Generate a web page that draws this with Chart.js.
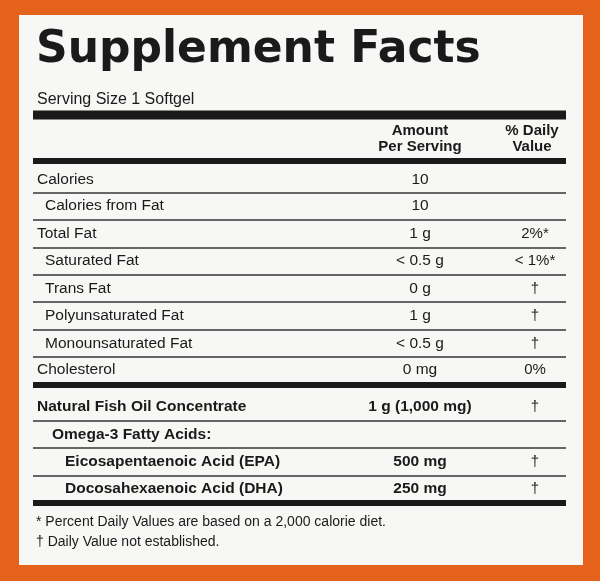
<!DOCTYPE html>
<html><head><meta charset="utf-8">
<script src="https://cdn.jsdelivr.net/npm/chart.js@4/dist/chart.umd.min.js"></script>
<style>html,body{margin:0;padding:0;background:#e5621c}#w{width:600px;height:581px}</style>
</head><body><div id="w"><canvas id="c"></canvas></div>
<script>
const title = "Supplement Facts";
const serving = "Serving Size 1 Softgel";
const nutrients = ["Calories","Calories from Fat","Total Fat","Saturated Fat","Trans Fat","Polyunsaturated Fat","Monounsaturated Fat","Cholesterol","Natural Fish Oil Concentrate","Omega-3 Fatty Acids:","Eicosapentaenoic Acid (EPA)","Docosahexaenoic Acid (DHA)"];
const amounts = ["10","10","1 g","< 0.5 g","0 g","1 g","< 0.5 g","0 mg","1 g (1,000 mg)","","500 mg","250 mg"];
const dailyValues = ["","","2%*","< 1%*","†","†","†","0%","†","","†","†"];
const footnotes = ["* Percent Daily Values are based on a 2,000 calorie diet.","† Daily Value not established."];

const rowY=[180,206,234,261,289,316,344,370,407,435,462,489];
const indent=[0,1,0,1,1,1,1,0,0,1,2,2];
const bold=[0,0,0,0,0,0,0,0,1,1,1,1];
const F='"Liberation Sans", Arial, sans-serif';
const labelPlugin={id:'label',beforeDraw(ch){
 const c=ch.ctx,X=ch.scales.x,Y=ch.scales.y;
 const px=v=>X.getPixelForValue(v),py=v=>Y.getPixelForValue(v);
 c.save();
 c.fillStyle='#e5621c';c.fillRect(0,0,600,581);
 c.fillStyle='#f7f7f5';c.fillRect(px(19),py(15),px(583)-px(19),py(565)-py(15));
 c.fillStyle='#1a1a1a';c.textBaseline='middle';
 c.font='bold 44px "DejaVu Sans", sans-serif';c.fillText(title,px(36),py(51));
 c.font='16px '+F;c.fillText(serving,px(37),py(100));
 const bar=(y,h,x0=33)=>c.fillRect(px(x0),py(y)-h/2,px(566)-px(x0),h);
 bar(115,9);bar(161,6);bar(385,6);bar(503,6);
 [193,220,248,275,302,330,357].forEach(y=>bar(y,1.3));
 [421,448,476].forEach(y=>bar(y,1.3,33));
 c.textAlign='center';c.font='bold 15px '+F;
 c.fillText('Amount',px(420),py(131));c.fillText('Per Serving',px(420),py(147));
 c.fillText('% Daily',px(532),py(131));c.fillText('Value',px(532),py(147));
 nutrients.forEach((n,i)=>{
  c.font=(bold[i]?'bold ':'')+'15.5px '+F;
  c.textAlign='left';c.fillText(n,px(37+[0,8,28][indent[i]]+(bold[i]&&indent[i]==1?7:0)),py(rowY[i]));
  c.textAlign='center';c.fillText(amounts[i],px(420),py(rowY[i]));
  c.font='15px '+F;c.fillText(dailyValues[i],px(535),py(rowY[i]));
 });
 c.textAlign='left';c.font='14px '+F;
 footnotes.forEach((f,i)=>c.fillText(f,px(36),py(522+i*20)));
 c.restore();
}};
new Chart(document.getElementById('c'),{type:'scatter',data:{datasets:[{data:[]}]},
 options:{responsive:true,maintainAspectRatio:false,animation:false,layout:{padding:0},
  plugins:{legend:{display:false},tooltip:{enabled:false}},
  scales:{x:{type:'linear',min:0,max:600,display:false},y:{type:'linear',min:0,max:581,reverse:true,display:false}}},
 plugins:[labelPlugin]});
</script></body></html>
